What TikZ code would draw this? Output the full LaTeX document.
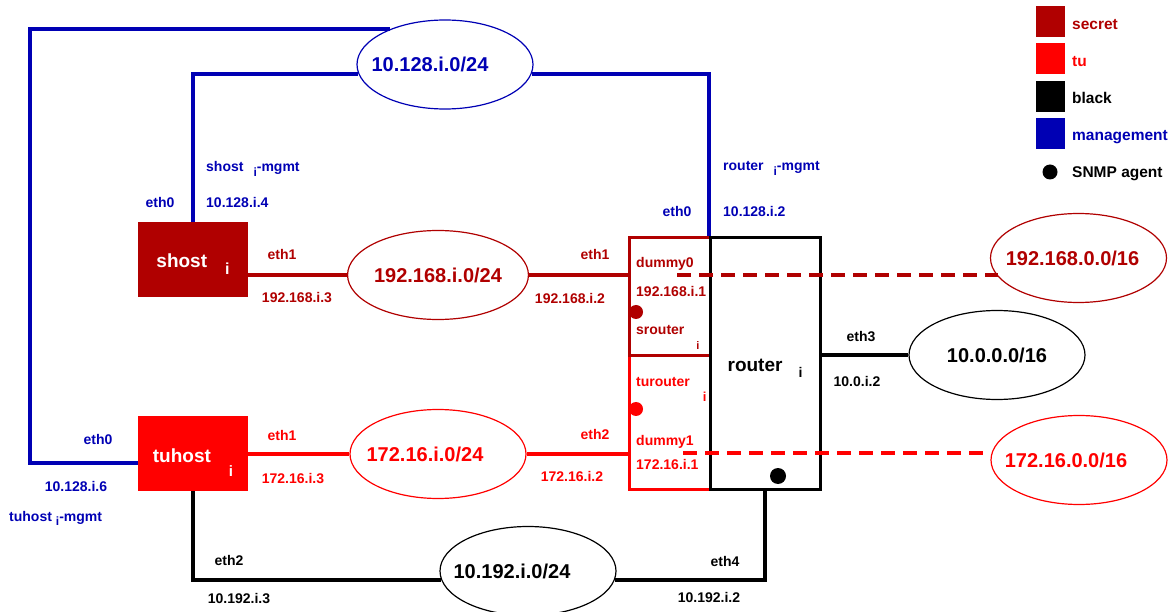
\documentclass[tikz,border=0pt]{standalone}
\usepackage{fontspec}
\setmainfont{Liberation Sans}
\usetikzlibrary{shapes.geometric, positioning, calc}

\definecolor{secretred}{RGB}{176,0,0}
\definecolor{tured}{RGB}{255,0,0}
\definecolor{mgmtblue}{RGB}{0,0,180}

\newcommand{\idx}[3][12]{\hspace*{#2}\raisebox{-#3}{\fontsize{#1}{#1}\selectfont i}}

\begin{document}
\begin{tikzpicture}[x=1pt, y=-1pt,
  lbl/.style={font=\bfseries\fontsize{14}{16}\selectfont, inner sep=0pt, text height=10pt, text depth=0pt},
  big/.style={font=\bfseries\fontsize{20}{22}\selectfont, text height=14.5pt, text depth=0pt},
  net/.style={ellipse, draw, line width=1.2pt, minimum width=176pt, minimum height=89pt, inner sep=0pt, big},
  tshift/.style={execute at begin node={\hspace*{-#1}}},
  host/.style={rectangle, minimum width=110pt, minimum height=75pt, inner sep=0pt, text=white,
    font=\bfseries\fontsize{19}{21}\selectfont, text height=17pt, text depth=0pt},
  box/.style={rectangle, draw, line width=3pt, inner sep=0pt},
  link/.style={line width=4pt},
  vlink/.style={line width=4pt, dash pattern=on 14pt off 8pt},
  agent/.style={circle, fill, inner sep=0pt, minimum size=14pt},
  keybox/.style={rectangle, minimum width=29pt, minimum height=31pt, inner sep=0pt},
  keytext/.style={lbl, font=\bfseries\fontsize{15.5}{17}\selectfont, text height=11pt, anchor=west}]
  \useasboundingbox (0,0) rectangle (1171,612);

  \node[host, fill=secretred] (shost) at (193,259.5) {shost\idx[16]{18pt}{7pt}};
  \node[host, fill=tured] (tuhost) at (193,453.5) {tuhost\idx[15]{18pt}{14pt}};
  \node[box, draw=tured, minimum width=81pt, minimum height=133pt] (turouter) at (669.5,422.5) {};
  \node[box, draw=secretred, minimum width=81pt, minimum height=118pt] (srouter) at (669.5,297) {};
  \node[box, draw=black, minimum width=110pt, minimum height=251pt, font=\bfseries\fontsize{19}{21}\selectfont,
    text height=17pt, text depth=0pt] (router) at (765,363.5) {router\idx[14]{16pt}{6pt}};

  \node[net, draw=mgmtblue, text=mgmtblue, tshift=30pt] (mgmt) at (445,64.5) {10.128.i.0/24};
  \node[net, draw=secretred, text=secretred] (lan0) at (438,275) {192.168.i.0/24};
  \node[net, draw=tured, text=tured, tshift=26pt] (lan1) at (438,454) {172.16.i.0/24};
  \node[net, tshift=32pt] (lan2) at (528,571) {10.192.i.0/24};
  \node[net] (wan) at (997,355) {10.0.0.0/16};
  \node[net, draw=secretred, text=secretred, tshift=12pt] (ext0) at (1078.5,258) {192.168.0.0/16};
  \node[net, draw=tured, text=tured, tshift=26pt] (ext1) at (1079,460) {172.16.0.0/16};

  \coordinate (outer) at (30,0);
  \coordinate (d0) at (677,275);
  \coordinate (d1) at (683,453);

  \draw[link, mgmtblue] (shost.north) |- (mgmt.186);
  \draw[link, mgmtblue] (mgmt.354) -| (router.north west);
  \draw[link, mgmtblue] (mgmt.147) -- (mgmt.147 -| outer) |- (tuhost.190);
  \draw[link, secretred] (shost.east |- lan0.west) -- (lan0.west);
  \draw[link, secretred] (lan0.east) -- (lan0.east -| srouter.west);
  \draw[link, tured] (tuhost.east |- lan1.west) -- (lan1.west);
  \draw[link, tured] (lan1.east) -- (lan1.east -| turouter.west);
  \draw[link] (tuhost.south) |- (lan2.186);
  \draw[link] (lan2.354) -| (router.south);
  \draw[link] (router.east |- wan.west) -- (wan.west);
  \draw[vlink, secretred] (d0) -- (d0 -| ext0.193);
  \draw[vlink, tured] (d1) -- (d1 -| ext1.west);

  \node[agent, secretred] (snmp0) at (636,312) {};
  \node[agent, tured] (snmp1) at (636,409) {};
  \node[agent, minimum size=16pt] (snmp2) at (778,476) {};

  \node[lbl, mgmtblue] (sh-eth0) at (160,203) {eth0};
  \node[lbl, mgmtblue, anchor=west] (sh-mgmt) at (206,167) {shost\idx{10pt}{5pt}-mgmt};
  \node[lbl, mgmtblue, anchor=west] (sh-ip0) at (206,203) {10.128.i.4};
  \node[lbl, mgmtblue] (rt-eth0) at (677,212) {eth0};
  \node[lbl, mgmtblue, anchor=west] (rt-mgmt) at (723,166) {router\idx{10pt}{5pt}-mgmt};
  \node[lbl, mgmtblue, anchor=west] (rt-ip0) at (723,212) {10.128.i.2};
  \node[lbl, mgmtblue] (tu-eth0) at (98,440) {eth0};
  \node[lbl, mgmtblue] (tu-ip0) at (76,486) {10.128.i.6};
  \node[lbl, mgmtblue, anchor=west] (tu-mgmt) at (9,516) {tuhost\idx{4pt}{5pt}-mgmt};

  \node[lbl, secretred] (sh-eth1) at (282,255) {eth1};
  \node[lbl, secretred] (sh-ip1) at (297,298) {192.168.i.3};
  \node[lbl, secretred] (rt-eth1) at (595,255) {eth1};
  \node[lbl, secretred] (rt-ip1) at (570,299) {192.168.i.2};
  \node[lbl, secretred, anchor=west] (dummy0) at (636,263) {dummy0};
  \node[lbl, secretred, anchor=west] (s-ip) at (636,292) {192.168.i.1};
  \node[lbl, secretred, anchor=west] (s-name) at (636,330) {srouter\idx[11]{12pt}{15pt}};

  \node[lbl, tured] (tu-eth1) at (282,435) {eth1};
  \node[lbl, tured] (tu-ip1) at (293,478) {172.16.i.3};
  \node[lbl, tured] (rt-eth2) at (595,434) {eth2};
  \node[lbl, tured] (rt-ip2) at (572,477) {172.16.i.2};
  \node[lbl, tured, anchor=west] (t-name) at (636,382) {turouter\idx[13]{13pt}{15pt}};
  \node[lbl, tured, anchor=west] (dummy1) at (636,441) {dummy1};
  \node[lbl, tured, anchor=west] (t-ip) at (636,464) {172.16.i.1};

  \node[lbl] (rt-eth3) at (861,337) {eth3};
  \node[lbl] (rt-ip3) at (857,382) {10.0.i.2};
  \node[lbl] (tu-eth2) at (229,560) {eth2};
  \node[lbl] (tu-ip2) at (239,598) {10.192.i.3};
  \node[lbl] (rt-eth4) at (725,561) {eth4};
  \node[lbl] (rt-ip4) at (709,597) {10.192.i.2};

  \node[keybox, fill=secretred] (key0) at (1050.5,22) {};
  \node[keybox, fill=tured] (key1) at (1050.5,59) {};
  \node[keybox, fill=black] (key2) at (1050.5,96.5) {};
  \node[keybox, fill=mgmtblue] (key3) at (1050.5,133.5) {};
  \node[agent, minimum size=15pt] (key4) at (1050,172) {};
  \node[keytext, secretred] (key0-t) at (1072,24.5) {secret};
  \node[keytext, tured] (key1-t) at (1072,61.5) {tu};
  \node[keytext] (key2-t) at (1072,98.5) {black};
  \node[keytext, mgmtblue] (key3-t) at (1072,135.5) {management};
  \node[keytext] (key4-t) at (1072,172.5) {SNMP agent};
\end{tikzpicture}
\end{document}
